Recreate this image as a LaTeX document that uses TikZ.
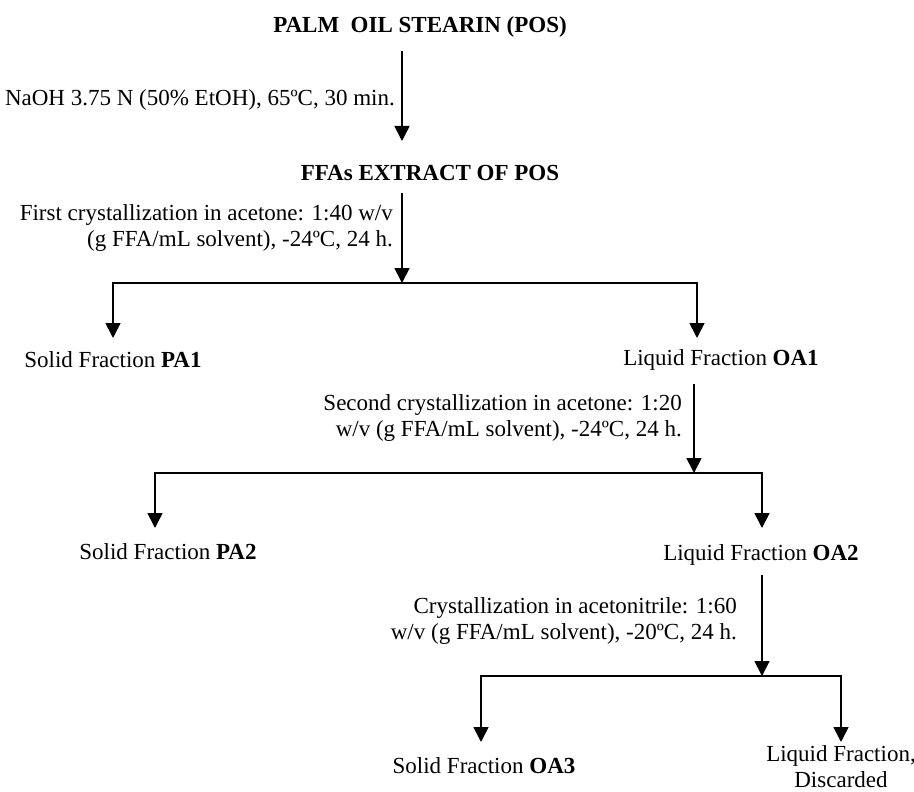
\documentclass[tikz,border=0pt]{standalone}
\usepackage{fontspec}
\setmainfont{Liberation Serif}
\usetikzlibrary{arrows.meta}
\begin{document}
\begin{tikzpicture}[x=1pt,y=-1pt,
  txt/.style={inner sep=0pt,font=\fontsize{23}{26}\selectfont},
  lbl/.style={txt,align=right,anchor=east},
  arr/.style={line width=1.7pt,-{Triangle[width=15pt,length=15pt]}},
  ln/.style={line width=1.7pt}]
\useasboundingbox (0,0) rectangle (914,792);
% nodes
\node[txt,font=\fontsize{23}{26}\selectfont\bfseries] (pos) at (420,27) {PALM\ \ OIL STEARIN (POS)};
\node[lbl] (l1) at (395,100) {NaOH 3.75 N (50\% EtOH), 65ºC, 30 min.};
\node[txt,font=\fontsize{23}{26}\selectfont\bfseries] (ffa) at (430,173) {FFAs EXTRACT OF POS};
\node[lbl] (l2) at (393,228) {First crystallization in acetone: 1:40 w/v\\(g FFA/mL solvent), -24ºC, 24 h.};
\node[txt] (pa1) at (113,360) {Solid Fraction \textbf{PA1}};
\node[txt] (oa1) at (721,360) {Liquid Fraction \textbf{OA1}};
\node[lbl] (l3) at (682,418) {Second crystallization in acetone: 1:20\\w/v (g FFA/mL solvent), -24ºC, 24 h.};
\node[txt] (pa2) at (168,552) {Solid Fraction \textbf{PA2}};
\node[txt] (oa2) at (761,555) {Liquid Fraction \textbf{OA2}};
\node[lbl] (l4) at (737,621) {Crystallization in acetonitrile: 1:60\\w/v (g FFA/mL solvent), -20ºC, 24 h.};
\node[txt] (oa3) at (484,766) {Solid Fraction \textbf{OA3}};
\node[txt,align=center] (lfd) at (841,767) {Liquid Fraction,\\Discarded};
% coordinates
\coordinate (a1s) at (402,51);
\coordinate (a1e) at (402,141);
\coordinate (a2s) at (402,193);
\coordinate (b1) at (402,283);
\coordinate (b1l) at (113,338);
\coordinate (b1r) at (697,338);
\coordinate (a3s) at (694,384);
\coordinate (b2) at (694,473);
\coordinate (b2l) at (155,528);
\coordinate (b2r) at (762,528);
\coordinate (a4s) at (762,575);
\coordinate (b3) at (762,676);
\coordinate (b3l) at (481,742);
\coordinate (b3r) at (841,742);
% connectors
\draw[arr] (a1s) -- (a1e);
\draw[arr] (a2s) -- (b1);
\draw[arr] (b1) -| (b1l);
\draw[arr] (b1) -| (b1r);
\draw[arr] (a3s) -- (b2);
\draw[arr] (b2) -| (b2l);
\draw[arr] (b2) -| (b2r);
\draw[arr] (a4s) -- (b3);
\draw[arr] (b3) -| (b3l);
\draw[arr] (b3) -| (b3r);
\end{tikzpicture}
\end{document}
